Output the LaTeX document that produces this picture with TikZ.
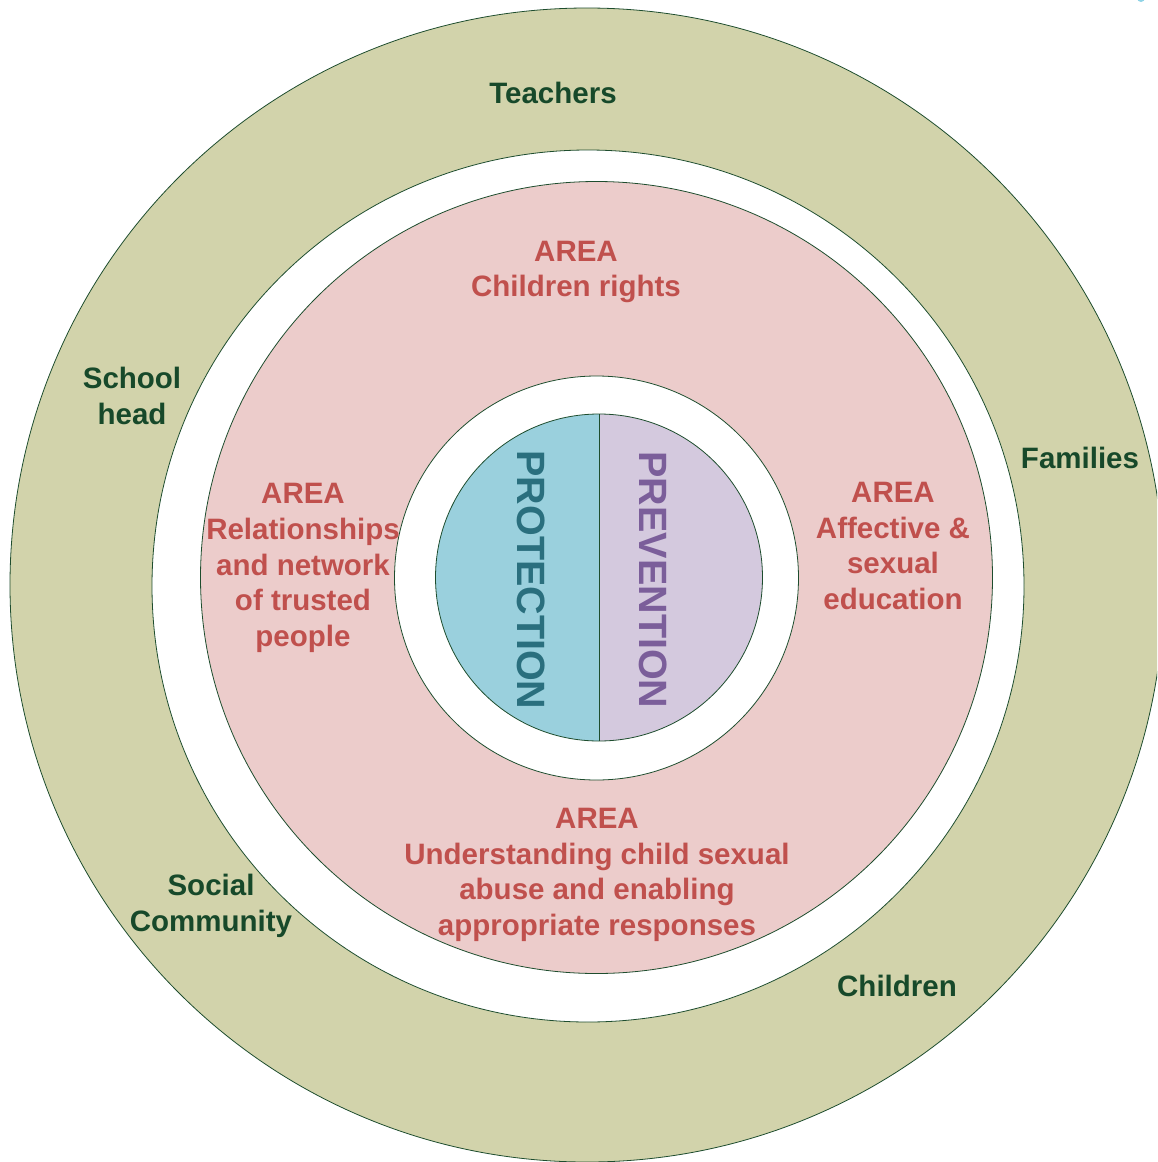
\documentclass[tikz,border=0pt]{standalone}
\usepackage{fontspec}
\setmainfont{Liberation Sans}
\definecolor{olive}{HTML}{D2D3AB}
\definecolor{pinkarea}{HTML}{ECCCCB}
\definecolor{protblue}{HTML}{9AD0DD}
\definecolor{prevlav}{HTML}{D4C9DE}
\definecolor{ringline}{HTML}{1E4D2E}
\definecolor{greentext}{HTML}{17492A}
\definecolor{redtext}{HTML}{C0504D}
\definecolor{tealtext}{HTML}{2A6F7E}
\definecolor{purpletext}{HTML}{7B5E9A}
\definecolor{cyanmark}{HTML}{8ED3E6}
\begin{document}
\begin{tikzpicture}[x=1pt,y=-1pt,
  ring/.style={draw=ringline,line width=0.8pt},
  actor/.style={text=greentext,font=\bfseries\fontsize{29.5}{35.5}\selectfont,align=center,inner sep=0pt},
  area/.style={text=redtext,font=\bfseries\fontsize{29.5}{35.7}\selectfont,align=center,inner sep=0pt},
  core/.style={font=\bfseries\fontsize{39.5}{44}\selectfont,rotate=-90,inner sep=0pt}]
\useasboundingbox (0,0) rectangle (1157,1162);
\clip (0,0) rectangle (1157,1162);
\fill[cyanmark] (1141,-2) circle (4);
% outer ring
\filldraw[ring,fill=olive] (587,585) circle (577);
\filldraw[ring,fill=white] (588,586) circle (436);
\filldraw[ring,fill=pinkarea] (596.5,577.5) circle (396);
\filldraw[ring,fill=white] (596.5,578) circle (202);
% core halves
\coordinate (ctop) at (599,414);
\coordinate (cbot) at (599,741);
\fill[protblue] (ctop) arc[start angle=-90,end angle=-270,radius=163.5] -- cycle;
\fill[prevlav] (ctop) arc[start angle=-90,end angle=90,radius=163.5] -- cycle;
\draw[ring] (599,577.5) circle (163.5);
\draw[ring] (ctop) -- (cbot);
\node[core,text=tealtext] (prot) at (531,580) {PROTECTION};
\node[core,text=purpletext] (prev) at (653,580) {PREVENTION};
% actors
\node[actor] (teachers) at (553,93) {Teachers};
\node[actor] (school) at (132,396) {School\\head};
\node[actor] (families) at (1080,458) {Families};
\node[actor] (social) at (211,906) {Social\\Community};
\node[actor] (children) at (897,986) {Children};
% areas
\node[area] (rights) at (576,272) {AREA\\Children rights};
\node[area] (relations) at (303,568) {AREA\\Relationships\\and network\\of trusted\\people};
\node[area] (affective) at (893,546) {AREA\\Affective \&\\sexual\\education};
\node[area] (abuse) at (597,875) {AREA\\Understanding child sexual\\abuse and enabling\\appropriate responses};
\end{tikzpicture}
\end{document}
